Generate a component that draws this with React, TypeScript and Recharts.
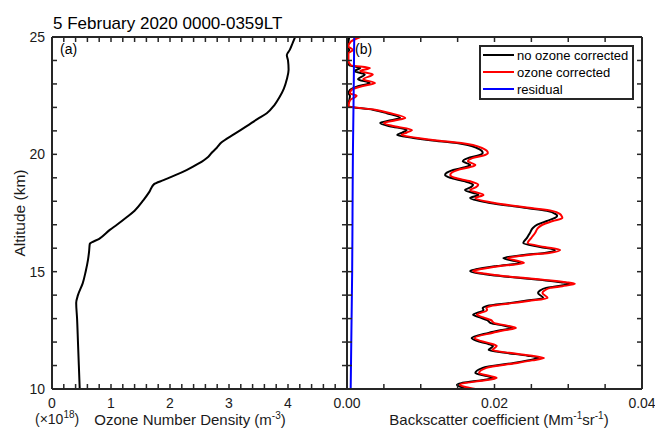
import React from 'react';
import { LineChart, Line, XAxis, YAxis } from 'recharts';

// ---------- data ----------
const ozoneAltitude = [10, 11, 12, 13, 13.67, 14, 14.5, 15, 15.5, 15.9, 16.18, 16.4, 16.78, 17, 17.33, 17.6, 18.05, 18.4, 18.73, 18.9, 19.1, 19.33, 19.6, 19.9, 20.1, 20.27, 20.5, 20.85, 21.2, 21.5, 21.75, 22.1, 22.45, 22.8, 23.2, 23.6, 24.0, 24.23, 24.45, 24.75, 25];
const ozoneDensity = [0.47, 0.455, 0.44, 0.425, 0.41, 0.44, 0.52, 0.57, 0.61, 0.63, 0.64, 0.8, 0.98, 1.1, 1.27, 1.4, 1.55, 1.65, 1.73, 1.89, 2.08, 2.28, 2.48, 2.65, 2.72, 2.79, 2.87, 3.08, 3.3, 3.48, 3.64, 3.77, 3.86, 3.93, 3.98, 4.01, 4.0, 3.98, 4.03, 4.08, 4.12];

const bsAltitude = [10.0, 10.08, 10.17, 10.25, 10.34, 10.47, 10.55, 10.68, 10.9, 11.11, 11.22, 11.32, 11.42, 11.54, 11.66, 11.83, 11.92, 12.05, 12.17, 12.39, 12.5, 12.6, 12.7, 12.81, 12.94, 13.05, 13.16, 13.37, 13.45, 13.54, 13.67, 13.75, 13.88, 14.09, 14.2, 14.31, 14.38, 14.48, 14.55, 14.65, 14.86, 14.93, 15.03, 15.1, 15.24, 15.37, 15.45, 15.58, 15.71, 15.8, 15.92, 16.05, 16.22, 16.44, 16.65, 16.86, 17.0, 17.16, 17.29, 17.37, 17.45, 17.59, 17.71, 17.93, 18.14, 18.27, 18.48, 18.6, 18.7, 18.85, 19.0, 19.12, 19.33, 19.45, 19.55, 19.7, 19.84, 19.95, 20.06, 20.27, 20.48, 20.6, 20.7, 20.82, 20.93, 21.04, 21.2, 21.34, 21.45, 21.55, 21.75, 21.9, 22.05, 22.3, 22.5, 22.6, 22.74, 22.9, 23.04, 23.2, 23.4, 23.55, 23.68, 23.8, 24.0, 24.3, 24.45, 24.6, 24.8, 25.0];

const noOzoneCorrected = [0.0162, 0.0155, 0.0149, 0.0155, 0.0175, 0.0198, 0.0190, 0.0174, 0.0184, 0.0226, 0.0245, 0.0260, 0.0245, 0.0215, 0.0192, 0.0198, 0.0192, 0.0176, 0.0169, 0.0192, 0.0208, 0.0224, 0.0212, 0.0195, 0.0190, 0.0180, 0.0171, 0.0185, 0.0184, 0.0190, 0.0222, 0.0240, 0.0266, 0.0259, 0.0262, 0.0270, 0.0285, 0.0302, 0.0290, 0.0262, 0.0195, 0.0178, 0.0167, 0.0175, 0.0203, 0.0235, 0.0228, 0.0212, 0.0240, 0.0268, 0.0282, 0.0262, 0.0239, 0.0244, 0.0248, 0.0252, 0.0258, 0.0271, 0.0282, 0.0285, 0.0283, 0.0271, 0.0244, 0.0194, 0.0167, 0.0178, 0.0160, 0.0168, 0.0171, 0.0160, 0.0140, 0.0133, 0.0144, 0.0160, 0.0167, 0.0157, 0.0164, 0.0178, 0.0184, 0.0176, 0.0149, 0.0113, 0.0090, 0.0068, 0.0075, 0.0081, 0.0058, 0.0045, 0.0060, 0.0072, 0.0054, 0.0035, 0.0001, 0.0003, 0.0004, 0.0002, 0.0004, 0.0015, 0.0031, 0.0015, 0.0024, 0.0010, 0.0018, 0.0003, 0.0001, 0.0001, 0.0003, 0.0001, 0.0002, 0.0003];

const ozoneCorrected = [0.0174, 0.0162, 0.0153, 0.0159, 0.0180, 0.0203, 0.0195, 0.0179, 0.0189, 0.0231, 0.0251, 0.0267, 0.0251, 0.0220, 0.0197, 0.0203, 0.0197, 0.0181, 0.0173, 0.0197, 0.0213, 0.0229, 0.0217, 0.0200, 0.0195, 0.0185, 0.0176, 0.0190, 0.0189, 0.0195, 0.0227, 0.0246, 0.0272, 0.0265, 0.0268, 0.0276, 0.0292, 0.0309, 0.0297, 0.0268, 0.0200, 0.0183, 0.0171, 0.0180, 0.0208, 0.0240, 0.0233, 0.0218, 0.0246, 0.0274, 0.0289, 0.0268, 0.0245, 0.0250, 0.0255, 0.0259, 0.0265, 0.0279, 0.0292, 0.0291, 0.0289, 0.0278, 0.0250, 0.0200, 0.0174, 0.0185, 0.0167, 0.0175, 0.0178, 0.0167, 0.0146, 0.0140, 0.0150, 0.0166, 0.0174, 0.0164, 0.0170, 0.0185, 0.0191, 0.0183, 0.0155, 0.0119, 0.0096, 0.0074, 0.0081, 0.0088, 0.0064, 0.0050, 0.0066, 0.0079, 0.0059, 0.0038, 0.0002, 0.0004, 0.0013, 0.0004, 0.0006, 0.0020, 0.0038, 0.0022, 0.0035, 0.0018, 0.0031, 0.0005, 0.0002, 0.0002, 0.0008, 0.0002, 0.0005, 0.0018];

const residualAltitude = [10, 12.5, 15, 17.5, 20, 22.5, 25];
const residualValues = [0.0005, 0.0006, 0.0007, 0.00075, 0.0008, 0.0009, 0.00098];

// ticks
const altMajor = [10, 15, 20, 25];
const altLabels = ['10', '15', '20', '25'];
const altMinor = [10, 11, 12, 13, 14, 15, 16, 17, 18, 19, 20, 21, 22, 23, 24, 25];
const ozMajor = [0, 1, 2, 3, 4];
const ozLabels = ['0', '1', '2', '3', '4'];
const ozMinor = [0, 0.2, 0.4, 0.6, 0.8, 1, 1.2, 1.4, 1.6, 1.8, 2, 2.2, 2.4, 2.6, 2.8, 3, 3.2, 3.4, 3.6, 3.8, 4, 4.2, 4.4, 4.6, 4.8, 5];
const bsMajor = [0, 0.02, 0.04];
const bsLabels = ['0.00', '0.02', '0.04'];
const bsMinor = [0, 0.005, 0.01, 0.015, 0.02, 0.025, 0.03, 0.035, 0.04];

const ozoneData = ozoneAltitude.map((a, i) => ({ alt: a, ozone: ozoneDensity[i] }));
const blackData = bsAltitude.map((a, i) => ({ alt: a, v: noOzoneCorrected[i] }));
const redData = bsAltitude.map((a, i) => ({ alt: a, v: ozoneCorrected[i] }));
const blueData = residualAltitude.map((a, i) => ({ alt: a, v: residualValues[i] }));

const FONT = '"Liberation Sans", Arial, Helvetica, sans-serif';
const AX = '#262626';
const axisLineStyle = { stroke: AX, strokeWidth: 2 };
const tickLineStyle = { stroke: AX, strokeWidth: 1.5 };
const tickText = { fontSize: 14, fill: '#1a1a1a', fontFamily: FONT };
const NoLabel = () => <g />;

const W = 655;
const H = 435;

export default function App() {
  return (
    <div style={{ position: 'absolute', left: 0, top: 0, width: W, height: H, background: '#fff' }}>
      {/* Left panel: ozone */}
      <div style={{ position: 'absolute', left: 0, top: 0 }}>
        <LineChart width={W} height={H} layout="vertical" margin={{ top: 37, right: 308, bottom: 16, left: 22 }}>
          <XAxis xAxisId="lab" type="number" orientation="bottom" domain={[0, 5]} allowDataOverflow
            ticks={ozMajor} interval={0} tickFormatter={(v: number) => ozLabels[ozMajor.indexOf(v)] ?? ''}
            axisLine={false} tickLine={false} tickSize={0} tickMargin={9} height={30} tick={tickText} />
          <XAxis xAxisId="bt" type="number" orientation="bottom" mirror domain={[0, 5]} allowDataOverflow
            ticks={ozMinor} interval={0} tick={<NoLabel />} axisLine={axisLineStyle} tickLine={tickLineStyle} tickSize={5} />
          <XAxis xAxisId="tp" type="number" orientation="top" mirror domain={[0, 5]} allowDataOverflow
            ticks={ozMinor} interval={0} tick={<NoLabel />} axisLine={axisLineStyle} tickLine={tickLineStyle} tickSize={5} />
          <YAxis yAxisId="lab" type="number" dataKey="alt" orientation="left" domain={[10, 25]} allowDataOverflow reversed
            ticks={altMajor} interval={0} tickFormatter={(v: number) => altLabels[altMajor.indexOf(v)] ?? ''}
            axisLine={false} tickLine={false} tickSize={0} tickMargin={7} width={30} tick={tickText} />
          <YAxis yAxisId="lt" type="number" dataKey="alt" orientation="left" mirror domain={[10, 25]} allowDataOverflow reversed
            ticks={altMinor} interval={0} tick={<NoLabel />} axisLine={axisLineStyle} tickLine={tickLineStyle} tickSize={5} />
          <YAxis yAxisId="rt" type="number" dataKey="alt" orientation="right" mirror domain={[10, 25]} allowDataOverflow reversed
            ticks={altMinor} interval={0} tick={<NoLabel />} axisLine={axisLineStyle} tickLine={tickLineStyle} tickSize={5} />
          {/* invisible helper series so every frame axis gets a scale */}
          <Line xAxisId="bt" yAxisId="lt" data={ozoneData} dataKey="ozone" stroke="none" dot={false} activeDot={false}
            legendType="none" isAnimationActive={false} />
          <Line xAxisId="tp" yAxisId="rt" data={ozoneData} dataKey="ozone" stroke="none" dot={false} activeDot={false}
            legendType="none" isAnimationActive={false} />
          <Line xAxisId="lab" yAxisId="lab" data={ozoneData} dataKey="ozone" type="monotoneY" stroke="#000"
            strokeWidth={2} dot={false} isAnimationActive={false} />
        </LineChart>
      </div>

      {/* Right panel: backscatter */}
      <div style={{ position: 'absolute', left: 0, top: 0 }}>
        <LineChart width={W} height={H} layout="vertical" margin={{ top: 37, right: 13, bottom: 16, left: 347 }}>
          <XAxis xAxisId="lab" type="number" orientation="bottom" domain={[0, 0.04]} allowDataOverflow
            ticks={bsMajor} interval={0} tickFormatter={(v: number) => bsLabels[bsMajor.indexOf(v)] ?? ''}
            axisLine={false} tickLine={false} tickSize={0} tickMargin={9} height={30} tick={tickText} />
          <XAxis xAxisId="bt" type="number" orientation="bottom" mirror domain={[0, 0.04]} allowDataOverflow
            ticks={bsMinor} interval={0} tick={<NoLabel />} axisLine={axisLineStyle} tickLine={tickLineStyle} tickSize={5} />
          <XAxis xAxisId="tp" type="number" orientation="top" mirror domain={[0, 0.04]} allowDataOverflow
            ticks={bsMinor} interval={0} tick={<NoLabel />} axisLine={axisLineStyle} tickLine={tickLineStyle} tickSize={5} />
          <YAxis yAxisId="lt" type="number" dataKey="alt" orientation="left" mirror domain={[10, 25]} allowDataOverflow reversed
            ticks={altMinor} interval={0} tick={<NoLabel />} axisLine={axisLineStyle} tickLine={tickLineStyle} tickSize={5} />
          <YAxis yAxisId="rt" type="number" dataKey="alt" orientation="right" mirror domain={[10, 25]} allowDataOverflow reversed
            ticks={altMinor} interval={0} tick={<NoLabel />} axisLine={axisLineStyle} tickLine={tickLineStyle} tickSize={5} />
          <Line xAxisId="bt" yAxisId="rt" data={blueData} dataKey="v" stroke="none" dot={false} activeDot={false}
            legendType="none" isAnimationActive={false} />
          <Line xAxisId="tp" yAxisId="rt" data={blueData} dataKey="v" stroke="none" dot={false} activeDot={false}
            legendType="none" isAnimationActive={false} />
          <Line xAxisId="lab" yAxisId="lt" data={blackData} dataKey="v" name="no ozone corrected" type="monotoneY"
            stroke="#000" strokeWidth={2} dot={false} isAnimationActive={false} />
          <Line xAxisId="lab" yAxisId="lt" data={redData} dataKey="v" name="ozone corrected" type="monotoneY"
            stroke="#ff0000" strokeWidth={2} dot={false} isAnimationActive={false} />
          <Line xAxisId="lab" yAxisId="lt" data={blueData} dataKey="v" name="residual" type="monotoneY"
            stroke="#0000ff" strokeWidth={2} dot={false} isAnimationActive={false} />
        </LineChart>
      </div>

      {/* Text overlay and legend */}
      <svg width={W} height={H} style={{ position: 'absolute', left: 0, top: 0, pointerEvents: 'none' }}
        fontFamily={FONT}>
        <text x={53} y={29} fontSize={17} fill="#000">5 February 2020 0000-0359LT</text>
        <text x={60} y={54} fontSize={14} fill="#000">(a)</text>
        <text x={355} y={54} fontSize={14} fill="#000">(b)</text>
        <text x={25} y={213} fontSize={15.5} fill="#1a1a1a" textAnchor="middle" transform="rotate(-90 25 213)">Altitude (km)</text>
        <text x={35} y={424} fontSize={14} fill="#1a1a1a">
          (×10<tspan dy={-6} fontSize={10}>18</tspan><tspan dy={6}>)</tspan>
        </text>
        <text x={190} y={425} fontSize={15} fill="#1a1a1a" textAnchor="middle">
          Ozone Number Density (m<tspan dy={-6} fontSize={10}>-3</tspan><tspan dy={6}>)</tspan>
        </text>
        <text x={499} y={425} fontSize={15} fill="#1a1a1a" textAnchor="middle">
          Backscatter coefficient (Mm<tspan dy={-6} fontSize={10}>-1</tspan><tspan dy={6}>sr</tspan><tspan dy={-6} fontSize={10}>-1</tspan><tspan dy={6}>)</tspan>
        </text>
        <rect x={480} y={46} width={153} height={53} fill="#fff" stroke={AX} strokeWidth={2} />
        <line x1={483} x2={514} y1={55} y2={55} stroke="#000" strokeWidth={2} />
        <line x1={483} x2={514} y1={72} y2={72} stroke="#ff0000" strokeWidth={2} />
        <line x1={483} x2={514} y1={89} y2={89} stroke="#0000ff" strokeWidth={2} />
        <text x={517} y={59.5} fontSize={13} fill="#000">no ozone corrected</text>
        <text x={517} y={76.5} fontSize={13} fill="#000">ozone corrected</text>
        <text x={517} y={93.5} fontSize={13} fill="#000">residual</text>
      </svg>
    </div>
  );
}
